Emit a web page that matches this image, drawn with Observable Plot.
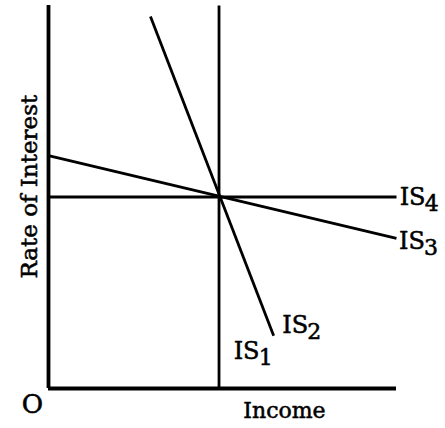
<!DOCTYPE html>
<html>
<head>
<meta charset="utf-8">
<script src="https://cdn.jsdelivr.net/npm/d3@7"></script>
<script src="https://cdn.jsdelivr.net/npm/@observablehq/plot@0.6"></script>
<style>
  html, body { margin: 0; padding: 0; background: #fff; }
  #chart svg { display: block; }
</style>
</head>
<body>
<div id="chart"></div>
<script>
// IS curves: segment end points (arbitrary 0–100 units)
const curveNames = ["IS1", "IS2", "IS3", "IS4"];
const curveX1 = [49, 29.3, 0, 0];
const curveY1 = [0, 97.1, 60.8, 50];
const curveX2 = [49, 64.7, 100, 100];
const curveY2 = [100, 13.8, 39.2, 50];

// curve labels ("IS" + subscript)
const labelMain = ["IS", "IS", "IS", "IS"];
const labelSub = ["1", "2", "3", "4"];
const labelX = [53.2, 67.2, 100.7, 100.9];
const labelY = [7.8, 14.4, 36.3, 47.8];

// axis titles
const xTitle = "Income";
const yTitle = "Rate of Interest";
const originLabel = "O";

const segments = curveNames.map((name, i) => ({
  name, x1: curveX1[i], y1: curveY1[i], x2: curveX2[i], y2: curveY2[i]
}));
const labels = labelMain.map((m, i) => ({ main: m, sub: labelSub[i], x: labelX[i], y: labelY[i] }));

const font = "DejaVu Serif";
const textStyle = { fontFamily: font, fill: "#000", stroke: "#000", strokeWidth: 0.55 };

const chart = Plot.plot({
  width: 445,
  height: 428,
  marginLeft: 48,
  marginRight: 49,
  marginTop: 5,
  marginBottom: 40,
  x: { domain: [0, 100], axis: null },
  y: { domain: [0, 100], axis: null },
  style: { background: "#fff", color: "#000" },
  marks: [
    Plot.link(segments, {
      x1: "x1", y1: "y1", x2: "x2", y2: "y2",
      stroke: "#000", strokeWidth: 2.8
    }),
    Plot.ruleX([0], { y1: 0, y2: 100, stroke: "#000", strokeWidth: 3.8 }),
    Plot.ruleY([0], { x1: 0, x2: 100, stroke: "#000", strokeWidth: 3.8 }),
    Plot.text(labels, {
      x: "x", y: "y", text: "main",
      textAnchor: "start", lineAnchor: "bottom",
      fontSize: 24, ...textStyle
    }),
    Plot.text(labels, {
      x: "x", y: "y", text: "sub",
      textAnchor: "start", lineAnchor: "bottom",
      dx: 25, dy: 6,
      fontSize: 22, ...textStyle
    }),
    Plot.text([originLabel], {
      x: -4.6, y: -6.3, text: d => d,
      textAnchor: "middle", lineAnchor: "bottom",
      fontSize: 26, ...textStyle
    }),
    Plot.text([xTitle], {
      x: 67.8, y: -7.8, text: d => d,
      textAnchor: "middle", lineAnchor: "bottom",
      fontSize: 22, ...textStyle
    }),
    Plot.text([yTitle], {
      x: -3.2, y: 52.7, text: d => d, rotate: -90,
      textAnchor: "middle", lineAnchor: "bottom",
      fontSize: 23, ...textStyle
    })
  ]
});

document.getElementById("chart").appendChild(chart);
</script>
</body>
</html>
